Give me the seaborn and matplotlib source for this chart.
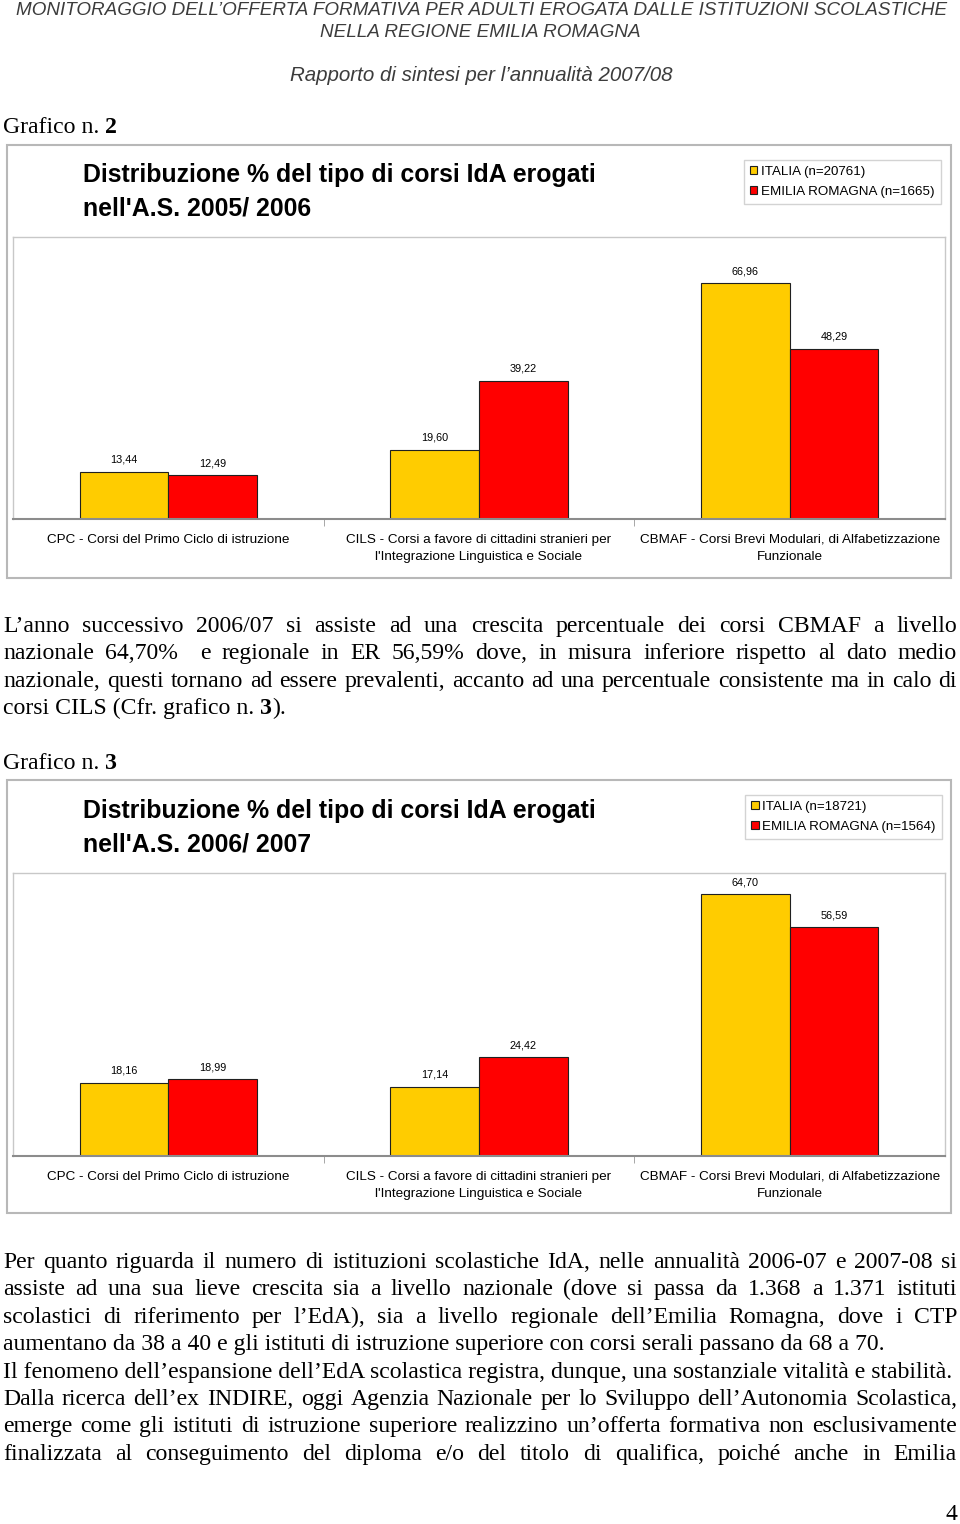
import numpy as np
import pandas as pd
import matplotlib
matplotlib.use("Agg")
import matplotlib.pyplot as plt
from matplotlib.patches import Rectangle
import seaborn as sns

# data
categories = ["CPC - Corsi del Primo Ciclo di istruzione",
              "CILS - Corsi a favore di cittadini stranieri per\nl'Integrazione Linguistica e Sociale",
              "CBMAF - Corsi Brevi Modulari, di Alfabetizzazione\nFunzionale"]
series_2005 = ["ITALIA (n=20761)", "EMILIA ROMAGNA (n=1665)"]
italia_2005 = [13.44, 19.60, 66.96]
emilia_2005 = [12.49, 39.22, 48.29]
series_2006 = ["ITALIA (n=18721)", "EMILIA ROMAGNA (n=1564)"]
italia_2006 = [18.16, 17.14, 64.70]
emilia_2006 = [18.99, 24.42, 56.59]
colors = ["#FFCC00", "#FF0000"]

header_1 = "MONITORAGGIO DELL’OFFERTA FORMATIVA PER ADULTI EROGATA DALLE ISTITUZIONI SCOLASTICHE"
header_2 = "NELLA REGIONE EMILIA ROMAGNA"
header_3 = "Rapporto di sintesi per l’annualità 2007/08"

par_1 = ["L’anno successivo 2006/07 si assiste ad una crescita percentuale dei corsi CBMAF a livello",
         "nazionale 64,70%  e regionale in ER 56,59% dove, in misura inferiore rispetto al dato medio",
         "nazionale, questi tornano ad essere prevalenti, accanto ad una percentuale consistente ma in calo di"]
par_2 = [("Per quanto riguarda il numero di istituzioni scolastiche IdA, nelle annualità 2006-07 e 2007-08 si", True),
         ("assiste ad una sua lieve crescita sia a livello nazionale (dove si passa da 1.368 a 1.371 istituti", True),
         ("scolastici di riferimento per l’EdA), sia a livello regionale dell’Emilia Romagna, dove i CTP", True),
         ("aumentano da 38 a 40 e gli istituti di istruzione superiore con corsi serali passano da 68 a 70.", False),
         ("Il fenomeno dell’espansione dell’EdA scolastica registra, dunque, una sostanziale vitalità e stabilità.", False),
         ("Dalla ricerca dell’ex INDIRE, oggi Agenzia Nazionale per lo Sviluppo dell’Autonomia Scolastica,", True),
         ("emerge come gli istituti di istruzione superiore realizzino un’offerta formativa non esclusivamente", True),
         ("finalizzata al conseguimento del diploma e/o del titolo di qualifica, poiché anche in Emilia", True)]

W, H = 960, 1524
fig = plt.figure(figsize=(W / 100, H / 100), dpi=100)
renderer = fig.canvas.get_renderer()


def fx(x):
    return x / W


def fy(y):
    return 1 - y / H


def measure(s, **kw):
    t = fig.text(0, 0, "x" + s + "x", **kw)
    w = t.get_window_extent(renderer).width
    t.remove()
    t = fig.text(0, 0, "xx", **kw)
    w -= t.get_window_extent(renderer).width
    t.remove()
    return w


def fit_size(s, target, **kw):
    return 10 * target / measure(s, fontsize=10, **kw)


SERIF = dict(family="Liberation Serif", color="black")
SANS = dict(family="Liberation Sans")

# header
hdr = dict(style="italic", color="#3c3c3c", **SANS)
fs_h = fit_size(header_1, 928, **hdr)
fig.text(fx(482), fy(15), header_1, ha="center", va="baseline", fontsize=fs_h, **hdr)
fig.text(fx(480), fy(37), header_2, ha="center", va="baseline", fontsize=fs_h, **hdr)
fs_r = fit_size(header_3, 384, **hdr)
fig.text(fx(481), fy(81), header_3, ha="center", va="baseline", fontsize=fs_r, **hdr)

fs_body = fit_size(par_2[3][0], 882, **SERIF)


def draw_runs(x, y, runs, size):
    for s, weight in runs:
        fig.text(fx(x), fy(y), s, ha="left", va="baseline", fontsize=size, weight=weight, **SERIF)
        x += measure(s, fontsize=size, weight=weight, **SERIF)


def draw_line(line, y, justify, x0=3, x1=957):
    if not justify:
        draw_runs(x0, y, [(line, "normal")], fs_body)
        return
    words = line.split(" ")
    widths = [measure(w, fontsize=fs_body, **SERIF) for w in words]
    gap = (x1 - x0 - sum(widths)) / (len(words) - 1)
    x = x0
    for w, wd in zip(words, widths):
        fig.text(fx(x), fy(y), w, ha="left", va="baseline", fontsize=fs_body, **SERIF)
        x += wd + gap


def draw_chart(box_top, box_bottom, title_base, series, it_vals, er_vals, ax_top, ax_bottom,
               ymax, legend_xy, year_label):
    fig.add_artist(Rectangle((fx(7), fy(box_bottom)), (951 - 7) / W, (box_bottom - box_top) / H,
                             transform=fig.transFigure, fill=False, edgecolor="#b8b8b8", lw=1.5))
    ttl = dict(weight="bold", color="black", **SANS)
    line1 = "Distribuzione % del tipo di corsi IdA erogati"
    fs_t = fit_size(line1, 515, **ttl)
    fig.text(fx(83), fy(title_base), line1, ha="left", va="baseline", fontsize=fs_t, **ttl)
    fig.text(fx(83), fy(title_base + 33), "nell'A.S. " + year_label, ha="left", va="baseline",
             fontsize=fs_t, **ttl)

    ax = fig.add_axes([fx(13), fy(ax_bottom), (945 - 13) / W, (ax_bottom - ax_top) / H])
    df = pd.DataFrame({"corso": categories * 2,
                       "serie": [series[0]] * 3 + [series[1]] * 3,
                       "valore": it_vals + er_vals})
    sns.barplot(data=df, x="corso", y="valore", hue="serie", palette=colors, width=0.57,
                saturation=1, edgecolor="#202020", linewidth=0.8, errorbar=None, ax=ax)
    for c in ax.containers:
        ax.bar_label(c, labels=[f"{v:.2f}".replace(".", ",") for v in c.datavalues],
                     padding=5, fontsize=7.8, **SANS)
    ax.set_xlim(-0.5, 2.5)
    ax.set_ylim(0, ymax)
    ax.set_yticks([])
    ax.set_xlabel("")
    ax.set_ylabel("")
    ax.set_xticks([0.5, 1.5], minor=True)
    ax.tick_params(axis="x", which="major", length=0, pad=10.5, labelsize=9.7)
    ax.tick_params(axis="x", which="minor", length=5, color="#999999", direction="out")
    for lab in ax.get_xticklabels():
        lab.set_family("Liberation Sans")
        lab.set_linespacing(1.6)
    for side in ["top", "left", "right"]:
        ax.spines[side].set_color("#c8c8c8")
        ax.spines[side].set_linewidth(1)
    ax.spines["bottom"].set_color("#8c8c8c")
    ax.spines["bottom"].set_linewidth(1.5)

    h, l = ax.get_legend_handles_labels()
    ax.legend(h, l, loc="upper right", bbox_to_anchor=(fx(legend_xy[0]), fy(legend_xy[1])),
              bbox_transform=fig.transFigure, frameon=True, fancybox=False, edgecolor="#c8c8c8",
              prop={"family": "Liberation Sans", "size": 9.6}, handlelength=0.55, handleheight=0.55,
              handletextpad=0.3, borderpad=0.45, labelspacing=0.6, borderaxespad=0)


# chart 2
draw_runs(3, 133, [("Grafico n. ", "normal"), ("2", "bold")], fs_body)
draw_chart(145, 578, 182, series_2005, italia_2005, emilia_2005, 237, 519, 80, (941, 160),
           "2005/ 2006")

for i, line in enumerate(par_1):
    draw_line(line, 632 + i * 27.3, True)
draw_runs(3, 714, [("corsi CILS (Cfr. grafico n. ", "normal"), ("3", "bold"), (").", "normal")], fs_body)

# chart 3
draw_runs(3, 769, [("Grafico n. ", "normal"), ("3", "bold")], fs_body)
draw_chart(780, 1213, 818, series_2006, italia_2006, emilia_2006, 873, 1156, 70, (942, 795),
           "2006/ 2007")

for i, (line, just) in enumerate(par_2):
    draw_line(line, 1268 + i * 27.4, just)

fig.text(fx(957), fy(1520), "4", ha="right", va="baseline", fontsize=fs_body, **SERIF)

fig.savefig("out.png", dpi=100, facecolor="white")
